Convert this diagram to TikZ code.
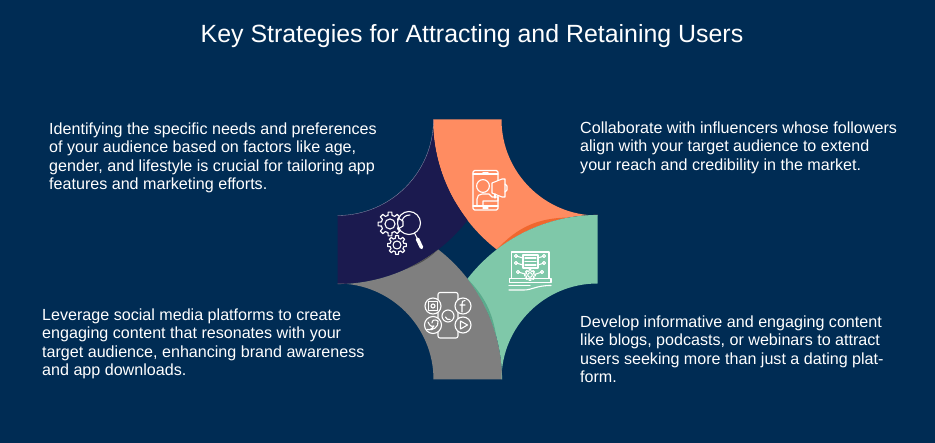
\documentclass[tikz,border=0pt]{standalone}
\usepackage{fontspec}
\setmainfont{Liberation Sans}
\usepackage{tikz}

\definecolor{bgblue}{HTML}{002C54}
\definecolor{petalorange}{HTML}{FF8C61}
\definecolor{petalnavy}{HTML}{1B1A4F}
\definecolor{petalgray}{HTML}{7F7F7F}
\definecolor{petalgreen}{HTML}{7FC8A9}
\definecolor{shadeorange}{HTML}{F0672E}
\definecolor{shadenavy}{HTML}{17164A}
\definecolor{shadegray}{HTML}{4F4F4F}
\definecolor{shadegreen}{HTML}{5BAA8C}

\tikzset{
  blurb/.style={anchor=north west, inner sep=0pt, align=left, text=white,
    font=\fontsize{16.1}{18.4}\selectfont},
  iconline/.style={draw=white, line width=1.1pt, line join=round, line cap=round},
  pics/cogwheel/.style={code={
    \foreach \t in {0,45,...,315} {
      \draw[iconline] (\t-13:0.74) -- (\t-9:1) -- (\t+9:1) -- (\t+13:0.74) -- (\t+32:0.74);
    }
    \draw[iconline] (0,0) circle (0.42);
  }}
}

\begin{document}
\begin{tikzpicture}[x=1pt,y=-1pt]
  \fill[bgblue] (0,0) rectangle (935,443);
  \useasboundingbox (0,0) rectangle (935,443);

  \node (title) [text=white, font=\fontsize{24.9}{28}\selectfont] at (472,36)
    {Key Strategies for Attracting and Retaining Users};

  % petals, all the same shape
  \begin{scope}[shift={(467.5,249.5)},y=1pt]
    \foreach \ang/\petal/\shadow/\tip/\bulge in {0/petalorange/shadeorange/100/23, 90/petalnavy/shadenavy/120/5,
                                     180/petalgray/shadegray/115/11, 270/petalgreen/shadegreen/105/17} {
      \begin{scope}[rotate=\ang]
        \fill[\petal] (-34.5,130) arc (180:232.2:164.5) arc (127.8:90:164.5)
          -- (130,34) arc (270:180:96) -- cycle;
        \fill[\shadow] (29.2,0) arc (127.8:\tip:164.5) to[bend right=\bulge] (29.2,0);
      \end{scope}
    }
    \draw[white!55!petalnavy, line width=0.3pt] (-130,34) arc (270:360:96);
  \end{scope}

  % gears and lens
  \pic[scale=12] at (390,224) {cogwheel};
  \pic[scale=9.5] at (397,245) {cogwheel};
  \draw[iconline, fill=petalnavy] (409,223) circle (11.5);
  \draw[iconline] (402,221) .. controls (403,217) and (406,215) .. (410,215);
  \draw[iconline] (398,218) -- (403,221) -- (403,226) -- (398,229);
  \draw[white, line width=1pt] (414.5,233) -- (417,238);
  \draw[white, line width=3.6pt, line cap=round] (417.5,239) -- (421.5,247.5);

  % phone and megaphone
  \draw[iconline, rounded corners=1.5pt] (473,170.5) rectangle (498,210);
  \draw[iconline] (473,174) -- (498,174) (473,206) -- (498,206);
  \draw[iconline] (483,172.3) -- (488,172.3) (483,208) -- (488,208);
  \draw[iconline, fill=petalorange] (483,186) circle (6.4);
  \draw[iconline] (477,206) -- (477,199) .. controls (477,196) and (479,194) .. (482,194)
    -- (489,194) -- (492,197) -- (498,197) -- (498,201) -- (483,201) -- (483,206);
  \draw[iconline, fill=petalorange] (492,183) -- (502,179) -- (505,179) -- (505,197)
    -- (502,197) -- (492,193) -- cycle;
  \draw[iconline] (505,184) -- (507,186) -- (507,190) -- (505,192);
  \draw[iconline] (495,194) -- (495,198);

  % laptop and hand
  \draw[iconline] (511.5,278) -- (511.5,252) -- (549,252) -- (549,278);
  \draw[iconline] (509.5,278.5) -- (551,278.5) -- (551,282.5) -- (509.5,282.5) -- cycle;
  \draw[iconline] (523,255) rectangle (538,268);
  \foreach \yy in {258,261.5,265} {
    \draw[iconline] (525,\yy) -- (536,\yy);
  }
  \pic[scale=5.5] at (530,275) {cogwheel};
  \foreach \xa/\xb/\yy in {516/523/256, 516/523/263, 518/525/272, 544/538/256, 544/538/263, 542/536/272} {
    \draw[iconline] (\xa,\yy) circle (1.6);
    \draw[iconline] (\xa,\yy) -- (\xb,\yy+2);
  }
  \draw[iconline] (509,290) -- (524,290) .. controls (532,290) and (536,285.5) .. (551,285.5);
  \draw[iconline] (509,285.5) -- (530,285.5);

  % phone and social marks
  \draw[iconline, rounded corners=2pt] (438,292.5) rectangle (458,338);
  \draw[iconline, fill=petalgray] (433,306) circle (8);
  \draw[iconline, fill=petalgray] (463,306) circle (8);
  \draw[iconline, fill=petalgray] (433,325) circle (8.5);
  \draw[iconline, fill=petalgray] (463,325) circle (8);
  \draw[iconline, fill=petalgray] (448,316) circle (6);
  \draw[iconline] (428.5,301.5) rectangle (437.5,310.5);
  \draw[iconline] (433,306) circle (2);
  \draw[iconline] (465,300.5) .. controls (462.5,300) and (462,302) .. (462,304) -- (462,312)
    (460,305) -- (465,305);
  \draw[iconline] (428,322) .. controls (430,327) and (433,327) .. (434,326)
    .. controls (430,331) and (428,330) .. (427,329.5)
    .. controls (433,331) and (439,327) .. (438,321) .. controls (435,319) and (432,320) .. (432,323);
  \draw[iconline] (460.5,321) -- (467.5,325) -- (460.5,329) -- cycle;
  \draw[iconline] (445.5,317) .. controls (446,319) and (448,320) .. (450,319.5);

  % texts
  \node (audience) [blurb] at (49,122.5) {Identifying the specific needs and preferences\\
    of your audience based on factors like age,\\
    gender, and lifestyle is crucial for tailoring app\\
    features and marketing efforts.};
  \node (influencers) [blurb] at (580,121.5) {Collaborate with influencers whose followers\\
    align with your target audience to extend\\
    your reach and credibility in the market.};
  \node (social) [blurb] at (42,308.5) {Leverage social media platforms to create\\
    engaging content that resonates with your\\
    target audience, enhancing brand awareness\\
    and app downloads.};
  \node (content) [blurb] at (580,315.5) {Develop informative and engaging content\\
    like blogs, podcasts, or webinars to attract\\
    users seeking more than just a dating plat-\\
    form.};
\end{tikzpicture}
\end{document}
